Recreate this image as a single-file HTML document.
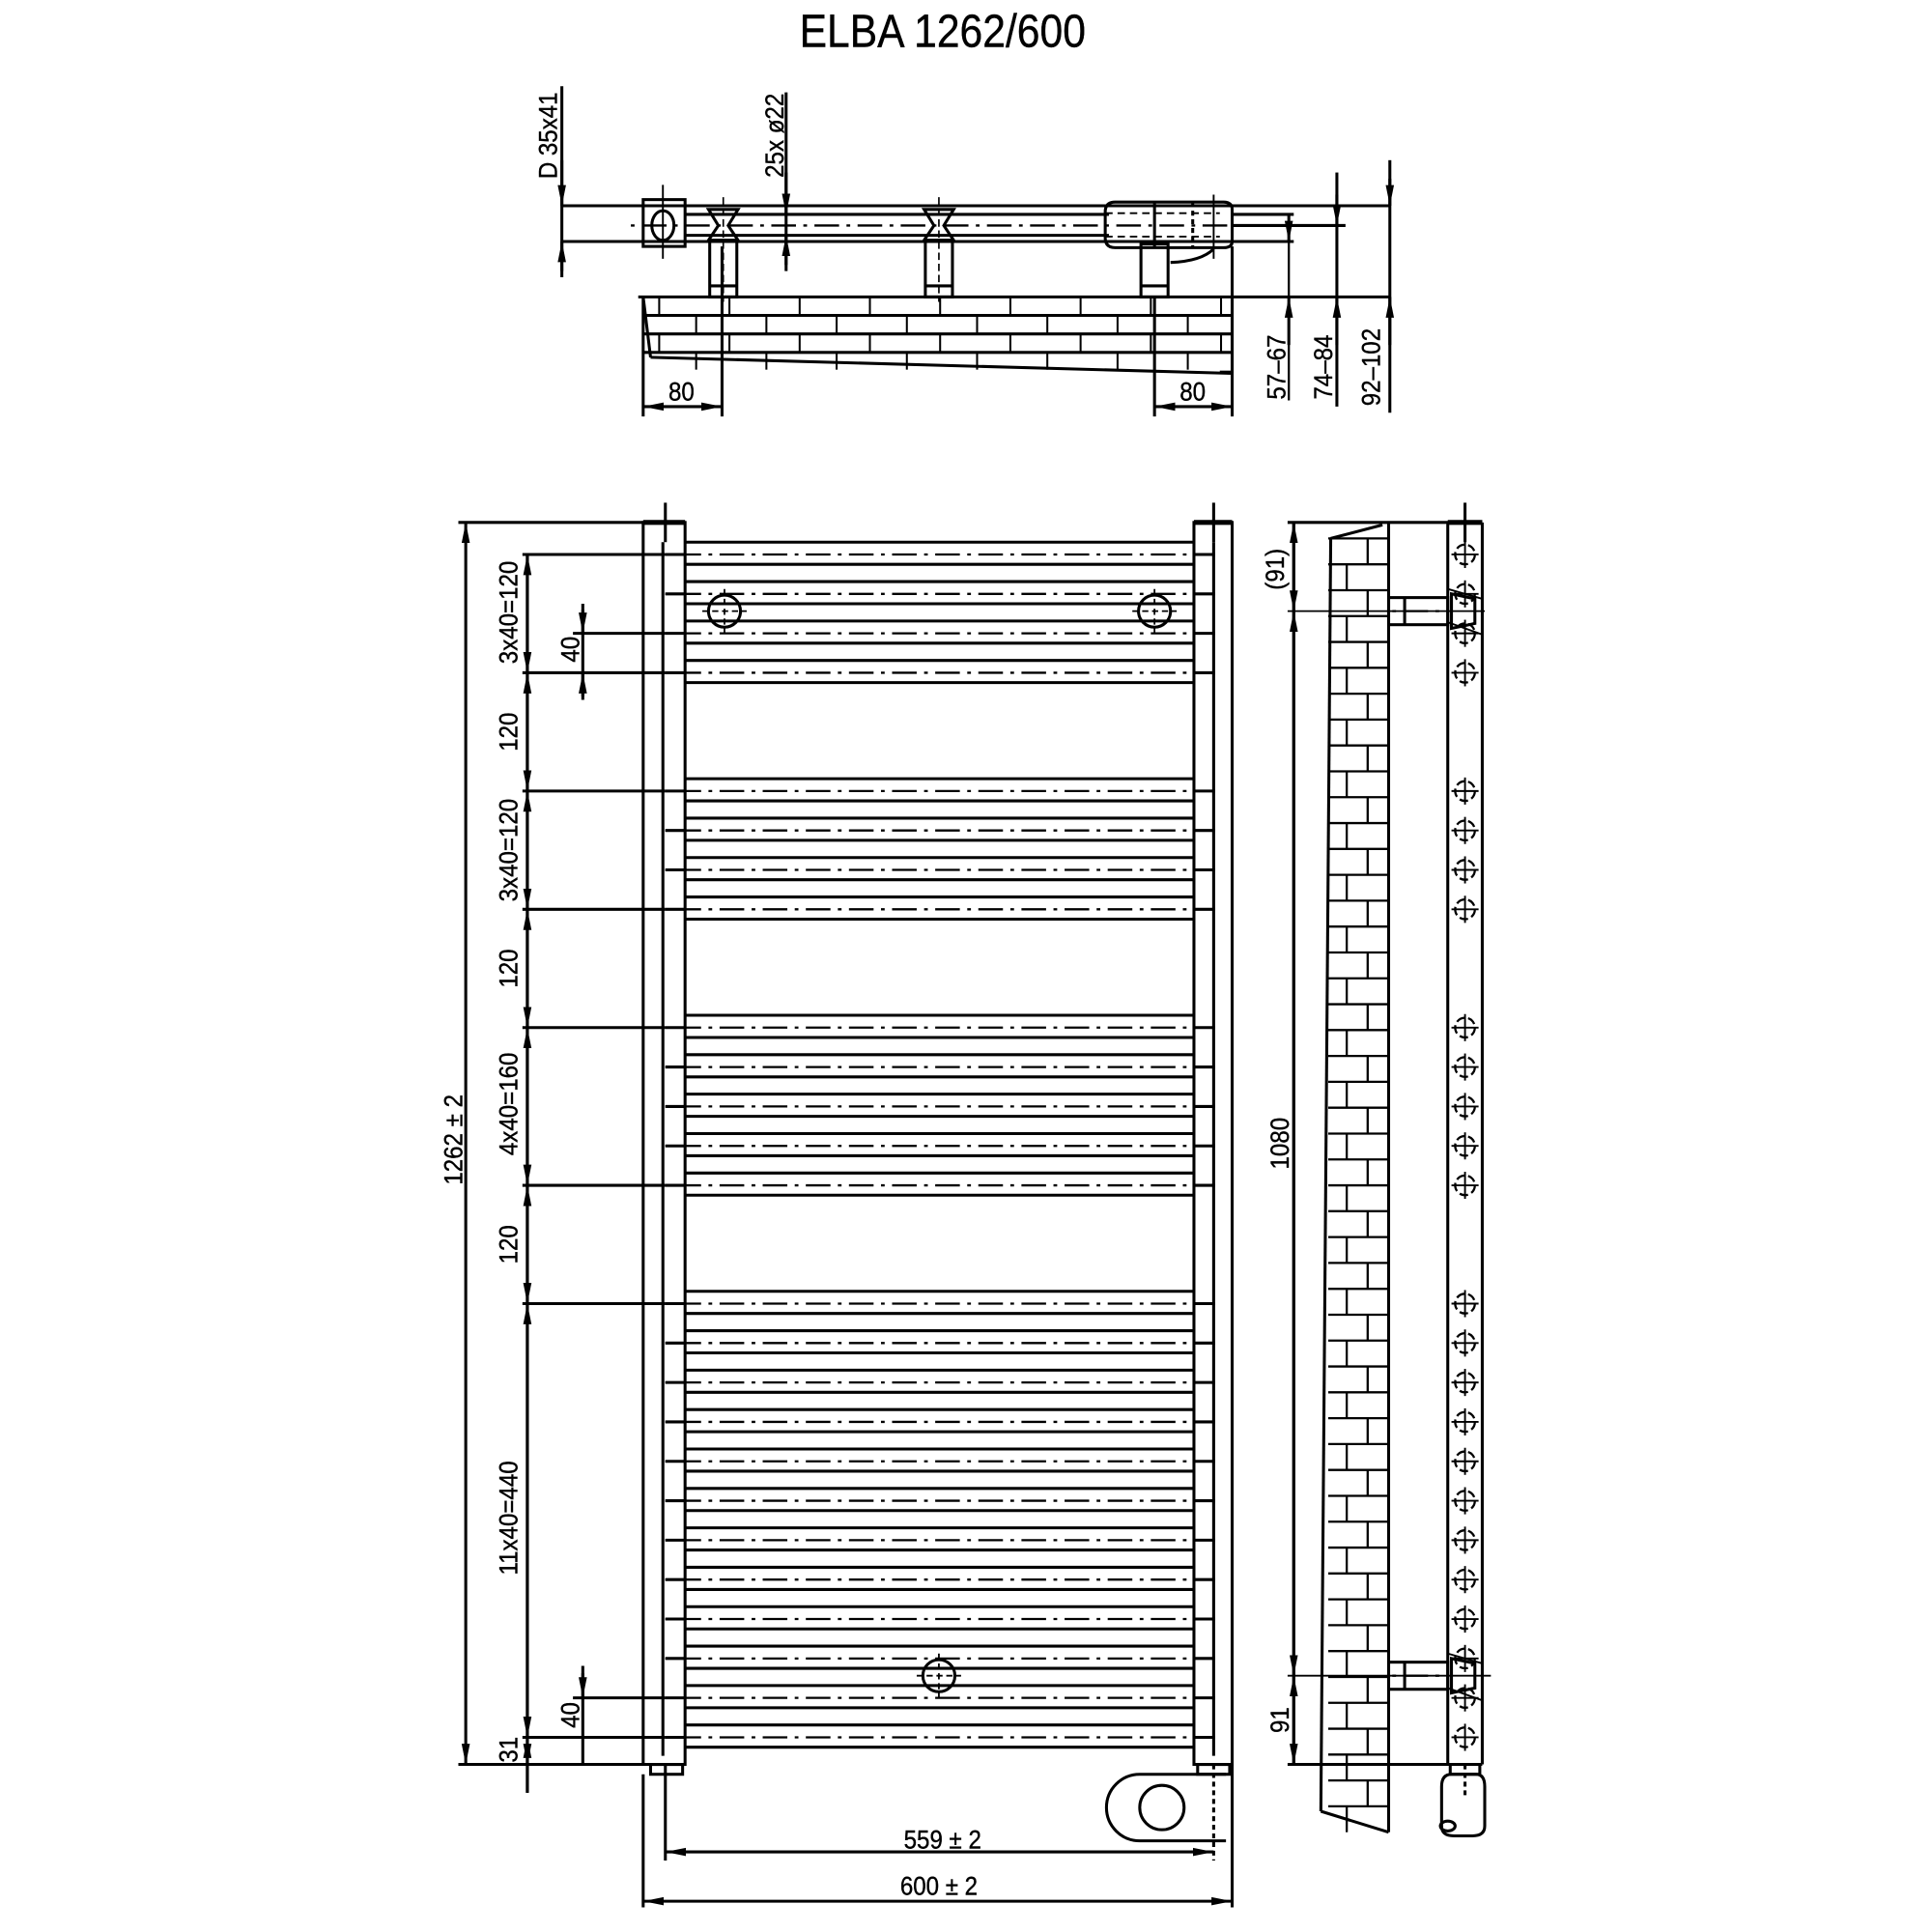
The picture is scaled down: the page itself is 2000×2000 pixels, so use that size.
<!DOCTYPE html>
<html><head><meta charset="utf-8"><style>
html,body{margin:0;padding:0;background:#fff;}
svg{display:block;}
text{font-family:"Liberation Sans",sans-serif;fill:#000;stroke:#000;stroke-width:0.3;}
</style></head><body>
<svg id="s" width="2000" height="2000" viewBox="0 0 1568 1568" xmlns="http://www.w3.org/2000/svg">
<defs>
<marker id="a" viewBox="0 0 10 10" refX="10" refY="5" markerWidth="7" markerHeight="7" orient="auto-start-reverse"><path d="M0,3 L10,5 L0,7 z" fill="#000"/></marker>
</defs>
<g id="g" stroke="#000" stroke-width="2.4" fill="none"></g>
<text x="765" y="38" font-size="38" text-anchor="middle" transform="translate(765 0) scale(0.88 1) translate(-765 0)">ELBA 1262/600</text>
<g font-size="21" text-anchor="middle">
<text transform="translate(452 110) rotate(-90) scale(0.9 1)">D 35x41</text>
<text transform="translate(636 110) rotate(-90) scale(0.9 1)">25x ø22</text>
<text transform="translate(553 325) scale(0.9 1)">80</text>
<text transform="translate(968 325) scale(0.9 1)">80</text>
<text transform="translate(1043 298) rotate(-90) scale(0.9 1)">57–67</text>
<text transform="translate(1081 298) rotate(-90) scale(0.9 1)">74–84</text>
<text transform="translate(1120 298) rotate(-90) scale(0.9 1)">92–102</text>
<text transform="translate(375 925) rotate(-90) scale(0.9 1)">1262 ± 2</text>
<text transform="translate(420 497) rotate(-90) scale(0.9 1)">3x40=120</text>
<text transform="translate(420 594) rotate(-90) scale(0.9 1)">120</text>
<text transform="translate(420 690) rotate(-90) scale(0.9 1)">3x40=120</text>
<text transform="translate(420 786) rotate(-90) scale(0.9 1)">120</text>
<text transform="translate(420 896) rotate(-90) scale(0.9 1)">4x40=160</text>
<text transform="translate(420 1010) rotate(-90) scale(0.9 1)">120</text>
<text transform="translate(420 1232) rotate(-90) scale(0.9 1)">11x40=440</text>
<text transform="translate(420 1420) rotate(-90) scale(0.9 1)">31</text>
<text transform="translate(470 527) rotate(-90) scale(0.9 1)">40</text>
<text transform="translate(470 1392) rotate(-90) scale(0.9 1)">40</text>
<text transform="translate(765 1500) scale(0.9 1)">559 ± 2</text>
<text transform="translate(762 1538) scale(0.9 1)">600 ± 2</text>
<text transform="translate(1042 462) rotate(-90) scale(0.9 1)">(91)</text>
<text transform="translate(1046 928) rotate(-90) scale(0.9 1)">1080</text>
<text transform="translate(1046 1396) rotate(-90) scale(0.9 1)">91</text>
</g>
</svg>
<script>
var g=document.getElementById('g'),NS='http://www.w3.org/2000/svg';
function el(t,a){var e=document.createElementNS(NS,t);for(var k in a)e.setAttribute(k,a[k]);g.appendChild(e);return e;}
function L(x1,y1,x2,y2,extra){var a={x1:x1,y1:y1,x2:x2,y2:y2};if(extra)for(var k in extra)a[k]=extra[k];return el('line',a);}
var DD={'stroke-dasharray':'3 6 20 6','stroke-width':1.8};
var AR={'marker-start':'url(#a)','marker-end':'url(#a)'};
L(455,167,1128,167);L(455,196,1050,196);
L(556,174,900,174);L(556,191,900,191);
L(512,183,1090,183,DD);
el('rect',{x:522,y:162,width:34,height:38});
el('ellipse',{cx:538,cy:183,rx:9,ry:12});
L(538,150,538,210,{'stroke-width':1.5});
[587,762].forEach(function(x){
 el('path',{d:'M'+(x-12)+',170 L'+(x+12)+',170 L'+(x+4)+',183 L'+(x+12)+',195 L'+(x-12)+',195 L'+(x-4)+',183 z'});
 L(x,160,x,245,{'stroke-width':1.3,'stroke-dasharray':'6 3'});
 el('rect',{x:x-11,y:195,width:22,height:46});
 L(x-11,232,x+11,232);
});
el('rect',{x:926,y:198,width:22,height:43});L(926,232,948,232);
el('path',{d:'M905,164 L993,164 Q1000,164 1000,170 L1000,196 Q1000,201 993,201 L905,201 Q897,201 897,193 L897,172 Q897,164 905,164 z'});
L(897,173,990,173,{'stroke-dasharray':'6 4','stroke-width':1.5});L(897,192,990,192,{'stroke-dasharray':'6 4','stroke-width':1.5});
L(937,164,937,201);L(968,164,968,201,{'stroke-dasharray':'4 3'});
L(985,158,985,210,{'stroke-width':1.5});
el('path',{d:'M950,213 Q975,212 985,202'});
L(518,241,1128,241);
var rows=[241,256,271,286];
for(var r=0;r<3;r++){L(522,rows[r+1],1000,rows[r+1]);}
for(var r=0;r<4;r++){var y0=rows[r],y1=(r<3?rows[r+1]:300);var off=(r%2?30:0);
 for(var x=535+off;x<1000;x+=57){L(x,y0,x,y1,{'stroke-width':1.6});}}
L(522,241,528,290);L(528,290,1000,303);L(1000,241,1000,303);L(1000,302,990,302);
L(456,70,456,220);L(456,130,456,167,{'marker-end':'url(#a)'});L(456,225,456,196,{'marker-end':'url(#a)'});
L(638,75,638,215);L(638,140,638,174,{'marker-end':'url(#a)'});L(638,220,638,191,{'marker-end':'url(#a)'});
L(522,241,522,338);L(586,200,586,338);L(522,330,586,330,AR);
L(937,241,937,338);L(1000,200,1000,338);L(937,330,1000,330,AR);
L(1000,174,1050,174);L(1046,174,1046,325,{'stroke-width':1.8});L(1046,175,1046,196,{'marker-end':'url(#a)'});L(1046,280,1046,241,{'marker-end':'url(#a)'});
L(1000,183,1092,183);L(1085,158,1085,330);L(1085,140,1085,183,{'marker-end':'url(#a)'});L(1085,280,1085,241,{'marker-end':'url(#a)'});
L(1128,145,1128,335);L(1128,130,1128,167,{'marker-end':'url(#a)'});L(1128,280,1128,241,{'marker-end':'url(#a)'});
el('rect',{x:522,y:424,width:34,height:1008});L(538,440,538,1425);
el('rect',{x:969,y:424,width:31,height:1008});L(985,440,985,1425);
L(522,424,556,424,{'stroke-width':4});L(969,424,1000,424,{'stroke-width':4});
L(540,408,540,440);L(985,408,985,440);
var bars=[];
[450,642,834,1058].forEach(function(s,i){var n=[4,4,5,12][i];for(var k=0;k<n;k++)bars.push(s+32*k);});
bars.forEach(function(c){L(556,c-10,969,c-10);L(556,c+8,969,c+8);L(540,c,986,c,DD);L(540,c,556,c);L(969,c,986,c);});
L(372,424,522,424);L(372,1432,522,1432);L(378,424,378,1432,AR);
[450,546,642,738,834,962,1058,1410].forEach(function(y){L(424,y,540,y);});
L(428,450,428,1455);
[[450,546],[546,642],[642,738],[738,834],[834,962],[962,1058],[1058,1410]].forEach(function(p){L(428,p[0],428,p[1],AR);});
L(428,1432,428,1455);L(428,1410,428,1432,AR);
L(473,490,473,568);L(473,495,473,514,{'marker-end':'url(#a)'});L(473,565,473,546,{'marker-end':'url(#a)'});L(465,514,540,514);
L(473,1352,473,1432);L(473,1358,473,1378,{'marker-end':'url(#a)'});L(465,1378,540,1378);
[[588,496],[937,496],[762,1360]].forEach(function(p){el('circle',{cx:p[0],cy:p[1],r:13});L(p[0]-18,p[1],p[0]+18,p[1],{'stroke-width':1.4,'stroke-dasharray':'5 3'});L(p[0],p[1]-18,p[0],p[1]+18,{'stroke-width':1.4,'stroke-dasharray':'5 3'});});
el('rect',{x:528,y:1432,width:26,height:8});el('rect',{x:972,y:1432,width:26,height:8});
L(540,1432,540,1510);L(985,1432,985,1510,{'stroke-dasharray':'4 3'});
el('path',{d:'M995,1440 L925,1440 A27,27 0 0 0 925,1494 L995,1494'});
el('circle',{cx:943,cy:1467,r:18});
L(1000,1432,1000,1548);L(522,1440,522,1548);
L(540,1503,985,1503,AR);L(522,1543,1000,1543,AR);
L(1045,424,1203,424);L(1045,1432,1203,1432);
L(1127,424,1127,1487);
L(1080,437,1122,426);L(1080,437,1072,1470);L(1072,1470,1127,1487);
for(var y=437,i=0;y<1470;y+=21,i++){L(1078,y,1127,y,{'stroke-width':1.8});var jx=(i%2?1093:1110);L(jx,y,jx,y+21,{'stroke-width':1.8});}
L(1050,424,1050,1432);
L(1050,424,1050,496,AR);L(1050,496,1050,1360,AR);L(1050,1360,1050,1432,AR);
L(1045,496,1205,496,{'stroke-width':1.4});L(1045,1360,1210,1360,{'stroke-width':1.4});
L(1175,424,1175,1432);L(1203,424,1203,1432);L(1175,424,1203,424,{'stroke-width':4});
L(1189,408,1189,440);
[496,1360].forEach(function(y){el('rect',{x:1127,y:y-11,width:48,height:22});L(1140,y-11,1140,y+11);L(1130,y,1175,y,DD);
 el('path',{d:'M1178,'+(y-14)+' L1197,'+(y-10)+' L1197,'+(y+10)+' L1178,'+(y+14)+' z'});});
bars.forEach(function(c){var cx=1189;el('circle',{cx:cx,cy:c,r:8,'stroke-dasharray':'7 3','stroke-width':1.8});L(cx-11,c,cx+11,c,{'stroke-width':1.5});L(cx,c-11,cx,c+11,{'stroke-width':1.5});});
L(1175,505,1203,515,{'stroke-width':1.5});L(1175,1370,1203,1380,{'stroke-width':1.5});L(1175,478,1203,486,{'stroke-width':1.5});L(1175,1342,1203,1350,{'stroke-width':1.5});
el('rect',{x:1177,y:1432,width:24,height:8});
el('path',{d:'M1178,1440 L1198,1440 Q1205,1440 1205,1450 L1205,1482 Q1205,1490 1195,1490 L1180,1490 Q1170,1490 1170,1482 L1170,1450 Q1170,1440 1178,1440 z'});
L(1189,1432,1189,1458,{'stroke-dasharray':'4 3'});
el('ellipse',{cx:1175,cy:1482,rx:6,ry:4});
</script>
</body></html>
